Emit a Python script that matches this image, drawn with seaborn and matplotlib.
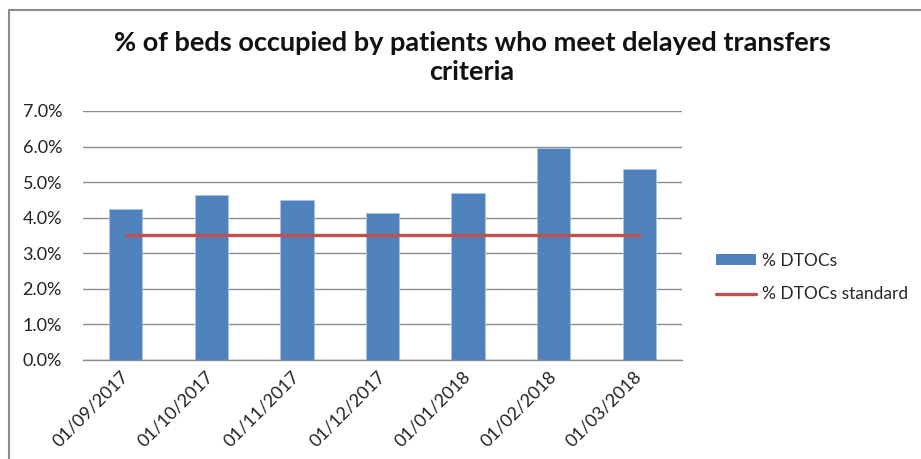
import numpy as np
import pandas as pd
import matplotlib
matplotlib.use("Agg")
import matplotlib.pyplot as plt
import seaborn as sns
from matplotlib.patches import Patch
from matplotlib.lines import Line2D
from matplotlib.ticker import FuncFormatter, MultipleLocator

# data
months = ["01/09/2017", "01/10/2017", "01/11/2017", "01/12/2017",
          "01/01/2018", "01/02/2018", "01/03/2018"]
dtocs = [4.25, 4.63, 4.51, 4.13, 4.70, 5.96, 5.38]
dtocs_standard = [3.5, 3.5, 3.5, 3.5, 3.5, 3.5, 3.5]

bar_color = "#4F81BD"
line_color = "#C0504D"

sns.set_theme(style="white")
plt.rcParams["font.family"] = ["Lato", "DejaVu Sans"]

df = pd.DataFrame({"month": months, "dtocs": dtocs, "standard": dtocs_standard})

fig = plt.figure(figsize=(9.21, 4.59), dpi=100)
ax = fig.add_axes([0.090, 0.2157, 0.6505, 0.5425])

ax.yaxis.grid(True, color="#8C8C8C", linewidth=1)
ax.set_axisbelow(True)

sns.barplot(data=df, x="month", y="dtocs", color=bar_color, width=0.39,
            saturation=1, ax=ax, edgecolor="#A9C4E6", linewidth=0.6)
sns.lineplot(x=np.arange(len(months)), y=df["standard"], color=line_color,
             linewidth=2.4, ax=ax)

ax.set_ylim(0, 7)
ax.set_xlim(-0.5, len(months) - 0.5)
ax.yaxis.set_major_locator(MultipleLocator(1))
ax.yaxis.set_major_formatter(FuncFormatter(lambda v, p: f"{v:.1f}%"))
ax.set_xlabel("")
ax.set_ylabel("")
for s in ["top", "right", "left"]:
    ax.spines[s].set_visible(False)
ax.spines["bottom"].set_color("#8C8C8C")
ax.spines["bottom"].set_linewidth(1)
ax.tick_params(axis="y", labelsize=13, colors="#222222", length=0, pad=15)
ax.tick_params(axis="x", labelsize=13, colors="#222222", length=0, pad=10)
plt.setp(ax.get_xticklabels(), rotation=45, ha="right", va="center",
         rotation_mode="anchor")

fig.text(0.5125, 0.874, "% of beds occupied by patients who meet delayed transfers\ncriteria",
         ha="center", va="center", fontsize=19.5, fontweight="bold",
         linespacing=1.25, color="#111111")

handles = [Patch(facecolor=bar_color, edgecolor="none"),
           Line2D([0], [0], color=line_color, linewidth=2.4)]
fig.legend(handles, ["% DTOCs", "% DTOCs standard"], loc="center left",
           bbox_to_anchor=(0.760, 0.395), frameon=False, fontsize=12.5,
           handlelength=2.35, handleheight=0.6, labelspacing=1.0,
           handletextpad=0.3)

# chart border (only top and left edges are visible in the crop)
fig.add_artist(Line2D([0.0098, 0.0098, 1.0], [0.0, 0.978, 0.978],
                      transform=fig.transFigure, color="#8C8C8C", linewidth=1.5))

fig.savefig("out.png", dpi=100)
